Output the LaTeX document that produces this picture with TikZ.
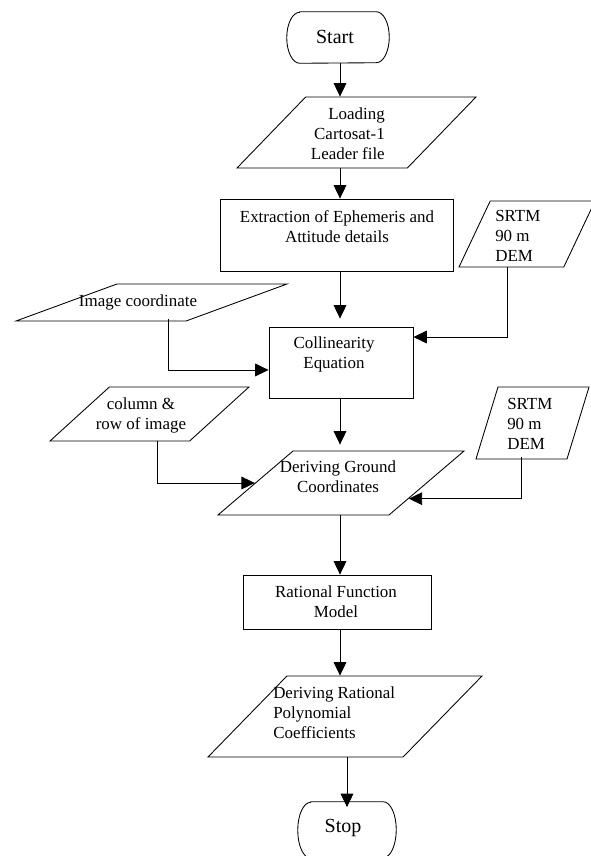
\documentclass[tikz,border=0pt]{standalone}
\usepackage{fontspec}
\setmainfont{Liberation Serif}
\usetikzlibrary{shapes.geometric,arrows.meta}
\newcommand\myfill{\phantom{\rule{2pt}{2pt}}}
\begin{document}
\begin{tikzpicture}[x=0.75pt,y=-0.75pt,
  every node/.style={font=\fontsize{12.7}{15}\selectfont},
  box/.style={draw, line width=0.65pt, rectangle, inner sep=0pt},
  term/.style={rectangle, inner sep=0pt},
  termline/.style={line width=0.65pt},
  para/.style={draw, line width=0.65pt, trapezium, trapezium stretches=true, inner sep=0pt},
  txt/.style={inner sep=0pt, align=center},
  bigtxt/.style={inner sep=0pt, font=\fontsize{15}{17}\selectfont},
  arr/.style={-{Triangle[length=10pt,width=9.5pt]}, line width=0.65pt}
]
\fill[white] (0,0) rectangle (591,856);
\useasboundingbox (0,0) rectangle (591,856);
\coordinate (ax) at (340,0);

% shapes
\node[term, minimum width=76.5pt, minimum height=38.25pt] (start) at (338,37.5) {};
\draw[termline] ([xshift=9.75pt]start.north west) -- ([xshift=-9.75pt]start.north east)
  arc[start angle=90, end angle=-90, x radius=9.75pt, y radius=19.125pt]
  -- ([xshift=9.75pt]start.south west)
  arc[start angle=270, end angle=90, x radius=9.75pt, y radius=19.125pt] -- cycle;
\node[para, trapezium left angle=56, trapezium right angle=124, minimum width=179.25pt, minimum height=53.25pt] (load) at (356.5,132.5) {\myfill};
\node[box, minimum width=174.75pt, minimum height=54pt] (ext) at (336.5,235) {};
\node[para, trapezium left angle=67, trapezium right angle=113, minimum width=102pt, minimum height=49.5pt] (srtmA) at (527,234) {\myfill};
\node[para, trapezium left angle=34.4, trapezium right angle=145.6, minimum width=203.25pt, minimum height=27.75pt] (imgc) at (151.5,302.5) {\myfill};
\node[box, minimum width=108pt, minimum height=53.25pt] (coll) at (341,362.5) {};
\node[para, trapezium left angle=53.5, trapezium right angle=126.5, minimum width=149.25pt, minimum height=40.5pt] (colrow) at (149.5,414) {\myfill};
\node[para, trapezium left angle=72.3, trapezium right angle=107.7, minimum width=84.75pt, minimum height=54pt] (srtmB) at (532.5,423) {\myfill};
\node[para, trapezium left angle=52, trapezium right angle=128, minimum width=184.5pt, minimum height=48pt] (dg) at (341,483) {\myfill};
\node[box, minimum width=141pt, minimum height=40.5pt] (rat) at (337,602) {};
\node[para, trapezium left angle=55.8, trapezium right angle=124.2, minimum width=205.5pt, minimum height=60.75pt] (dr) at (345,716.5) {\myfill};
\node[term, minimum width=73.5pt, minimum height=42pt] (stop) at (347,830) {};
\draw[termline] ([xshift=9.75pt]stop.north west) -- ([xshift=-9.75pt]stop.north east)
  arc[start angle=90, end angle=-90, x radius=9.75pt, y radius=21pt]
  -- ([xshift=9.75pt]stop.south west)
  arc[start angle=270, end angle=90, x radius=9.75pt, y radius=21pt] -- cycle;

% texts
\node[bigtxt] (tstart) at (335,37) {Start};
\node[txt, align=right, anchor=east] (tload) at (385,134) {Loading\\Cartosat-1\\Leader file};
\node[txt] (text) at (337,227) {Extraction of Ephemeris and\\Attitude details};
\node[txt, align=left, anchor=west] (tsA) at (495,236) {SRTM\\90 m\\DEM};
\node[txt] (timg) at (138,302) {Image coordinate};
\node[txt] (tcoll) at (334,354) {Collinearity\\Equation};
\node[txt] (tcol) at (141,415) {column \&\\row of image};
\node[txt, align=left, anchor=west] (tsB) at (507,424) {SRTM\\90 m\\DEM};
\node[txt] (tdg) at (338,477) {Deriving Ground\\Coordinates};
\node[txt] (trat) at (336,602) {Rational Function\\Model};
\node[txt, align=left, anchor=west] (tdr) at (273,713) {Deriving Rational\\Polynomial\\Coefficients};
\node[bigtxt] (tstop) at (343,828) {Stop};

% connectors
\draw[arr] (ax |- start.south) -- (ax |- load.north);
\draw[arr] (ax |- load.south) -- (ax |- ext.north);
\draw[arr, shorten >=6pt] (ax |- ext.south) -- (ax |- coll.north);
\draw[arr] ([xshift=-15pt]srtmA.south) |- ([yshift=19.1pt]coll.east);
\draw[arr] ([xshift=13pt,yshift=1.5pt]imgc.south) |- ([yshift=-5.6pt]coll.west);
\draw[arr, shorten >=4.5pt] (ax |- coll.south) -- (ax |- dg.north);
\draw[arr] ([xshift=5.6pt]colrow.south) |- (dg.west);
\draw[arr] ([xshift=-8.6pt,yshift=2pt]srtmB.south) |- (dg.-13.4);
\draw[arr] (ax |- dg.south) -- (ax |- rat.north);
\draw[arr] (ax |- rat.south) -- (ax |- dr.north);
\draw[arr, shorten >=-4pt] (stop.north |- dr.south) -- (stop.north);
\end{tikzpicture}
\end{document}
